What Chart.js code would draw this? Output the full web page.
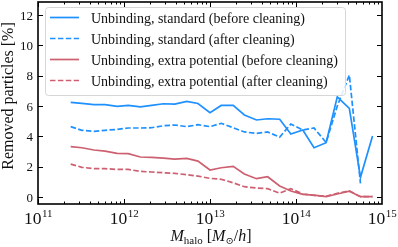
<!DOCTYPE html>
<html>
<head>
<meta charset="utf-8">
<script src="https://cdn.jsdelivr.net/npm/chart.js@4/dist/chart.umd.min.js"></script>
<style>
  html, body { margin: 0; padding: 0; background: #fff; }
  #removedChart { display: block; }
</style>
</head>
<body>
<canvas id="removedChart" width="398" height="247"></canvas>
<script>
// halo mass bins [M_sun/h]
const haloMass = [2.40e11, 3.24e11, 4.47e11, 6.03e11, 8.32e11, 1.12e12, 1.55e12, 2.09e12, 2.88e12,
  3.89e12, 5.37e12, 7.24e12, 1.00e13, 1.35e13, 1.86e13, 2.51e13, 3.47e13, 4.68e13,
  6.46e13, 8.71e13, 1.20e14, 1.62e14, 2.24e14, 3.02e14, 4.17e14, 5.62e14, 7.76e14];

// removed particles [%]
const stdBefore = [6.24, 6.17, 6.09, 6.09, 5.98, 6.04, 5.95, 6.04, 6.15, 6.13, 6.31, 6.17, 5.56, 6.04,
  6.04, 5.41, 5.08, 5.16, 5.13, 4.15, 4.42, 3.25, 3.58, 6.61, 5.85, 1.30, 4.02];
const stdAfter = [4.64, 4.40, 4.33, 4.40, 4.46, 4.55, 4.55, 4.57, 4.70, 4.75, 4.64, 4.77, 4.64, 4.86,
  4.57, 4.29, 4.20, 4.29, 3.95, 4.81, 4.42, 4.55, 3.60, 6.00, 8.04, 0.90, null];
const extraBefore = [3.32, 3.25, 3.10, 3.03, 2.88, 2.86, 2.64, 2.62, 2.57, 2.50, 2.55, 2.37, 1.78, 1.93,
  2.02, 1.52, 1.21, 1.34, 0.73, 0.40, 0.18, 0.13, 0.03, 0.20, 0.38, 0.02, 0.02];
const extraAfter = [2.17, 1.96, 1.87, 1.87, 1.82, 1.82, 1.69, 1.65, 1.60, 1.56, 1.47, 1.38, 1.23, 1.17,
  0.94, 0.68, 0.59, 0.55, 0.25, 0.55, 0.20, 0.10, 0.05, 0.25, 0.40, 0.02, 0.02];

const seriesLabels = [
  'Unbinding, standard (before cleaning)',
  'Unbinding, standard (after cleaning)',
  'Unbinding, extra potential (before cleaning)',
  'Unbinding, extra potential (after cleaning)'
];
const xTickExps = [11, 12, 13, 14, 15];
const yTicks = [0, 2, 4, 6, 8, 10, 12];

const BLUE = 'rgb(30,144,255)';
const RED = 'rgb(205,96,112)';
const DASH = [5.5, 2.4];
const SERIF = '"Liberation Serif", "DejaVu Serif", serif';

const toPoints = ys => haloMass.map((m, i) => ({ x: m, y: ys[i] }));

function makeSet(label, ys, color, dashed) {
  return {
    label: label,
    data: toPoints(ys),
    borderColor: color,
    borderWidth: 1.7,
    borderDash: dashed ? DASH : [],
    pointRadius: 0,
    tension: 0,
    fill: false,
    spanGaps: false
  };
}

const frame = {
  id: 'frame',
  afterDatasetsDraw(chart) {
    const ctx = chart.ctx;
    const a = chart.chartArea;
    const xs = chart.scales.x, ys = chart.scales.y;
    ctx.save();

    // legend box
    const lx = 45.5, ly = 7.5, lw = 300, lh = 88;
    ctx.beginPath();
    ctx.roundRect(lx, ly, lw, lh, 3);
    ctx.fillStyle = 'rgba(255,255,255,0.85)';
    ctx.fill();
    ctx.strokeStyle = '#d6d6d6';
    ctx.lineWidth = 1;
    ctx.stroke();
    chart.data.datasets.forEach((ds, i) => {
      const cy = 17.5 + i * 21;
      ctx.beginPath();
      ctx.setLineDash(ds.borderDash);
      ctx.strokeStyle = ds.borderColor;
      ctx.lineWidth = ds.borderWidth;
      ctx.moveTo(50, cy);
      ctx.lineTo(79, cy);
      ctx.stroke();
      ctx.setLineDash([]);
      ctx.fillStyle = '#111';
      ctx.font = '14px ' + SERIF;
      ctx.textBaseline = 'alphabetic';
      ctx.textAlign = 'left';
      ctx.fillText(ds.label, 91, cy + 5);
    });

    // ticks (inward, all sides)
    ctx.strokeStyle = '#000';
    ctx.lineWidth = 1;
    const tick = (x1, y1, x2, y2) => { ctx.beginPath(); ctx.moveTo(x1, y1); ctx.lineTo(x2, y2); ctx.stroke(); };
    for (let e = 11; e <= 14; e++) {
      for (let k = 1; k <= 9; k++) {
        const px = Math.round(xs.getPixelForValue(k * Math.pow(10, e))) + 0.5;
        const len = k === 1 ? 5 : 2.5;
        tick(px, a.bottom, px, a.bottom - len);
        tick(px, a.top, px, a.top + len);
      }
    }
    yTicks.forEach(v => {
      const py = Math.round(ys.getPixelForValue(v)) + 0.5;
      tick(a.left, py, a.left + 5, py);
      tick(a.right, py, a.right - 5, py);
    });

    // frame
    ctx.lineWidth = 1.6;
    ctx.strokeStyle = '#000';
    ctx.strokeRect(a.left, a.top, a.right - a.left, a.bottom - a.top);

    // tick labels
    ctx.fillStyle = '#111';
    ctx.textBaseline = 'alphabetic';
    xTickExps.forEach(e => {
      const px = xs.getPixelForValue(Math.pow(10, e));
      ctx.font = '17.5px ' + SERIF;
      const wb = ctx.measureText('10').width;
      ctx.font = '11px ' + SERIF;
      const we = ctx.measureText(String(e)).width;
      const x0 = px - (wb + we) / 2;
      ctx.textAlign = 'left';
      ctx.font = '17.5px ' + SERIF;
      ctx.fillText('10', x0, 224);
      ctx.font = '11px ' + SERIF;
      ctx.fillText(String(e), x0 + wb + 0.5, 216.5);
    });
    ctx.font = '13px ' + SERIF;
    ctx.textAlign = 'right';
    yTicks.forEach(v => {
      ctx.fillText(String(v), a.left - 5, ys.getPixelForValue(v) + 4.5);
    });

    // y axis title
    ctx.save();
    ctx.translate(13, 96);
    ctx.rotate(-Math.PI / 2);
    ctx.textAlign = 'center';
    ctx.font = '16px ' + SERIF;
    ctx.fillText('Removed particles [%]', 0, 0);
    ctx.restore();

    // x axis title: M_halo [M_sun/h]
    const parts = [
      { t: 'M', f: 'italic 16px ', dy: 0 },
      { t: 'halo', f: '11px ', dy: 3 },
      { t: ' [', f: '16px ', dy: 0 },
      { t: 'M', f: 'italic 16px ', dy: 0 },
      { t: '\u2299', f: '10px ', dy: 3 },
      { t: '/', f: '16px ', dy: 0 },
      { t: 'h', f: 'italic 16px ', dy: 0 },
      { t: ']', f: '16px ', dy: 0 }
    ];
    let total = 0;
    parts.forEach(p => { ctx.font = p.f + SERIF; p.w = ctx.measureText(p.t).width; total += p.w; });
    let cx = 211 - total / 2;
    ctx.textAlign = 'left';
    parts.forEach(p => {
      ctx.font = p.f + SERIF;
      ctx.fillText(p.t, cx, 241 + p.dy);
      cx += p.w;
    });

    ctx.restore();
  }
};

new Chart(document.getElementById('removedChart').getContext('2d'), {
  type: 'line',
  data: {
    datasets: [
      makeSet(seriesLabels[0], stdBefore, BLUE, false),
      makeSet(seriesLabels[1], stdAfter, BLUE, true),
      makeSet(seriesLabels[2], extraBefore, RED, false),
      makeSet(seriesLabels[3], extraAfter, RED, true)
    ]
  },
  options: {
    responsive: false,
    animation: false,
    devicePixelRatio: 1,
    layout: { padding: { left: 38, right: 16, top: 2, bottom: 43 } },
    scales: {
      x: { type: 'logarithmic', min: 1e11, max: 1e15, display: false },
      y: { type: 'linear', min: -0.46, max: 12.86, display: false }
    },
    plugins: {
      legend: { display: false },
      tooltip: { enabled: false }
    }
  },
  plugins: [frame]
});
</script>
</body>
</html>
